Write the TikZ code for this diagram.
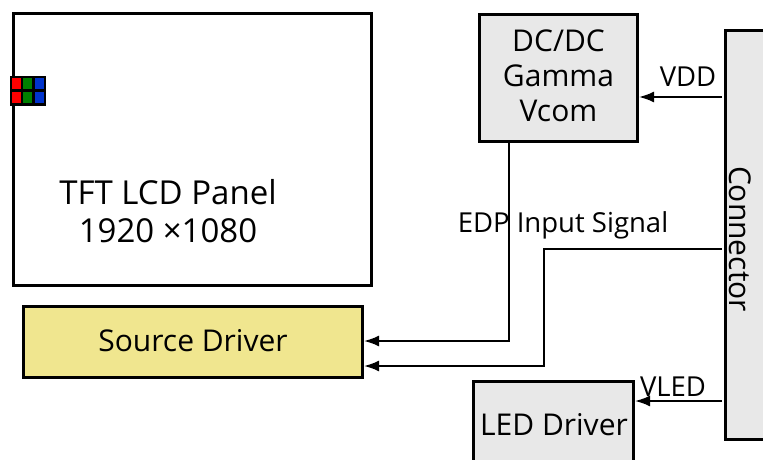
\documentclass[tikz,border=0pt]{standalone}
\usepackage{fontspec}
\setmainfont{Open Sans}
\usetikzlibrary{arrows.meta}
\definecolor{boxgray}{HTML}{E8E8E8}
\definecolor{srcyellow}{HTML}{F0E68F}
\definecolor{subr}{HTML}{FF0000}
\definecolor{subg}{HTML}{008000}
\definecolor{subb}{HTML}{0033CC}
\begin{document}
\begin{tikzpicture}[x=1pt,y=-1pt,
 box/.style={draw=black,line width=3pt,anchor=north west,inner sep=0pt},
 lbl/.style={font=\fontsize{30}{35}\selectfont,align=center,inner sep=0pt},
 big/.style={font=\fontsize{33}{38}\selectfont,align=center,inner sep=0pt},
 small/.style={font=\fontsize{27.5}{30}\selectfont,inner sep=0pt},
 sub/.style={anchor=north west,inner sep=0pt,minimum width=9pt,minimum height=11pt},
 wire/.style={draw=black,line width=2pt,-{Latex[length=15pt,width=11pt]}}]
\useasboundingbox (0,0) rectangle (763,460);
\node[box,minimum width=358pt,minimum height=272pt] (panel) at (12,12) {};
\node[big] (ptext) at (168,211) {TFT LCD Panel\\1920 ×1080};
\node[anchor=north west,fill=black,inner sep=0pt,minimum width=36pt,minimum height=30pt] (pix) at (10,76) {};
\node[sub,fill=subr] (r1) at (12,78) {};
\node[sub,fill=subg] (g1) at (23,78) {};
\node[sub,fill=subb] (b1) at (35,78) {};
\node[sub,fill=subr] (r2) at (12,92) {};
\node[sub,fill=subg] (g2) at (23,92) {};
\node[sub,fill=subb] (b2) at (35,92) {};
\node[box,fill=boxgray,minimum width=158pt,minimum height=127pt] (dc) at (478,13) {};
\node[lbl] (dctext) at (558.5,76) {DC/DC\\Gamma\\Vcom};
\node[box,fill=boxgray,minimum width=40pt,minimum height=409pt] (conn) at (724,29) {};
\node[lbl,rotate=-90] (conntext) at (740,239) {Connector};
\node[box,fill=srcyellow,minimum width=339pt,minimum height=71pt] (src) at (22,305) {};
\node[lbl] (srctext) at (193,341) {Source Driver};
\node[box,fill=boxgray,minimum width=160pt,minimum height=90pt] (led) at (472,380) {};
\node[lbl] (ledtext) at (554,425) {LED Driver};
\coordinate (vddstart) at (722,97);
\coordinate (edpstart) at (722,249);
\coordinate (vledstart) at (722,401);
\draw[wire] (vddstart) -- (dc.east |- vddstart);
\node[small] (vdd) at (688,77) {VDD};
\draw[wire] (dc.south -| 509,0) -- (509,341) -- (src.east |- 0,341);
\draw[wire] (edpstart) -- (544,249) -- (544,366) -- (src.east |- 0,366);
\node[small] (edp) at (563,225) {EDP Input Signal};
\draw[wire] (vledstart) -- (led.east |- vledstart);
\node[small] (vled) at (673,387) {VLED};
\end{tikzpicture}
\end{document}
